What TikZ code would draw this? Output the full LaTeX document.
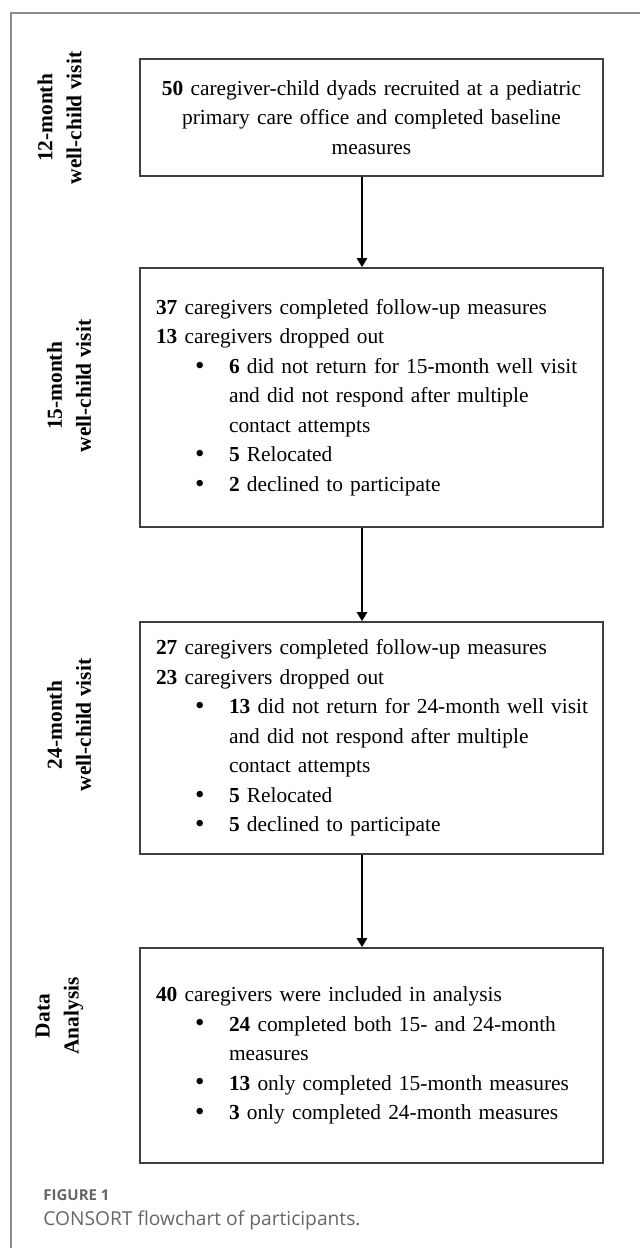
\documentclass[tikz,border=0pt]{standalone}
\usepackage{fontspec}
\setmainfont{Liberation Serif}
\setsansfont{Open Sans}
\usepackage{tikz}
\newcommand{\cnt}[1]{\textbf{#1}}
\newcommand{\bitem}{\par\noindent\hangindent=36.5pt\hangafter=0\llap{\makebox[17pt][l]{\raisebox{-0.4pt}{\fontsize{13.5}{13.5}\selectfont\textbullet}}}}
\newcommand{\boxindent}{\leftskip=4.75pt}
\setlength{\parindent}{0pt}
\usetikzlibrary{arrows.meta, positioning}
\tikzstyle{stagebox} = [draw=black!75, line width=0.8pt, minimum width=231.5pt, text width=225pt, inner xsep=3.25pt, font=\fontsize{10.7}{14.75}\selectfont]
\tikzstyle{visitlabel} = [rotate=90, align=center, font=\fontsize{10.7}{14.5}\selectfont\bfseries]
\tikzstyle{flowarrow} = [-{Triangle[width=5pt,length=4.5pt]}, line width=1.3pt]

\begin{document}
\begin{tikzpicture}[x=0.5pt, y=-0.5pt]
	\useasboundingbox (0,0) rectangle (640,1248);
	\draw[black!45, line width=1pt] (640,13) -- (11,13) -- (11,1248);
	% stages
	\node[stagebox, align=center, minimum height=58.5pt] (recruit) at (371.5,117.5) {%
		\cnt{50} caregiver-child dyads recruited at a pediatric\\
		primary care office and completed baseline\\
		measures};
	\node[stagebox, align=left, minimum height=129.5pt] (month15) at (371.5,397.5) {\boxindent
		\cnt{37} caregivers completed follow-up measures\\
		\cnt{13} caregivers dropped out
		\bitem \cnt{6} did not return for 15-month well visit\newline
		and did not respond after multiple\newline
		contact attempts
		\bitem \cnt{5} Relocated
		\bitem \cnt{2} declined to participate\par};
	\node[stagebox, align=left, minimum height=116pt] (month24) at (371.5,738) {\boxindent
		\cnt{27} caregivers completed follow-up measures\\
		\cnt{23} caregivers dropped out
		\bitem \cnt{13} did not return for 24-month well visit\newline
		and did not respond after multiple\newline
		contact attempts
		\bitem \cnt{5} Relocated
		\bitem \cnt{5} declined to participate\par};
	\node[stagebox, align=left, minimum height=107.5pt] (analysis) at (371.5,1055.5) {\boxindent
		\cnt{40} caregivers were included in analysis
		\bitem \cnt{24} completed both 15- and 24-month\newline
		measures
		\bitem \cnt{13} only completed 15-month measures
		\bitem \cnt{3} only completed 24-month measures\par};
	% side labels
	\node[visitlabel] (visit12) at (59.5,118) {12-month\\well-child visit};
	\node[visitlabel] (visit15) at (69,386) {15-month\\well-child visit};
	\node[visitlabel] (visit24) at (69,725) {24-month\\well-child visit};
	\node[visitlabel] (visitdata) at (59.5,1016) {Data\\Analysis};
	% arrows
	\draw[flowarrow] ([xshift=-4.75pt]recruit.south) -- ([xshift=-4.75pt]month15.north);
	\draw[flowarrow] ([xshift=-4.75pt]month15.south) -- ([xshift=-4.75pt]month24.north);
	\draw[flowarrow] ([xshift=-4.75pt]month24.south) -- ([xshift=-4.75pt]analysis.north);
	% caption
	\node[anchor=base west, inner sep=0pt, text=black!60, font=\sffamily\bfseries\fontsize{7.5}{8}\selectfont] (figlabel) at (43,1200) {FIGURE 1};
	\node[anchor=base west, inner sep=0pt, text=black!60, font=\sffamily\fontsize{9.6}{10}\selectfont] (figtitle) at (43,1225) {CONSORT flowchart of participants.};
\end{tikzpicture}
\end{document}
